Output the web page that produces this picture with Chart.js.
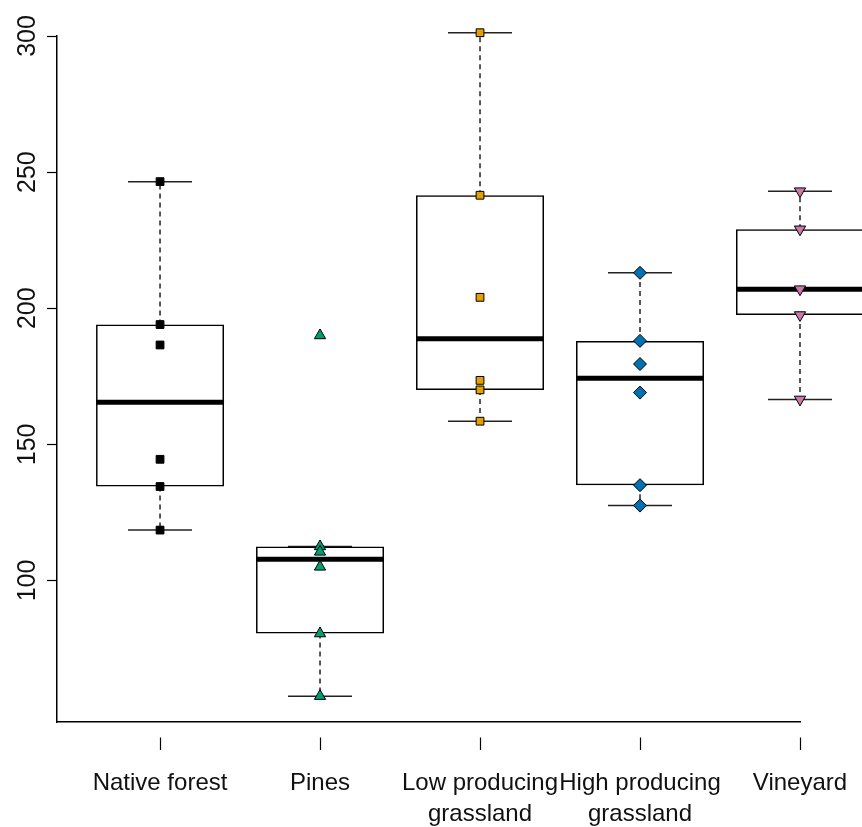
<!DOCTYPE html>
<html>
<head>
<meta charset="utf-8">
<script src="https://cdn.jsdelivr.net/npm/chart.js@4.4.1/dist/chart.umd.min.js"></script>
<style>
  html, body { margin: 0; padding: 0; background: #fff; }
  canvas { display: block; }
</style>
</head>
<body>
<canvas id="boxChart" width="862" height="827"></canvas>
<script>
// Valeurs
var GROUPES = ["Native forest", "Pines", ["Low producing", "grassland"], ["High producing", "grassland"], "Vineyard"];

var NATIVE_FOREST = [246.5, 194, 186.5, 144.5, 134.5, 118.5],
    PINES = [190, 112.5, 110.5, 105, 80.5, 57.5],
    LOW_GRASSLAND = [301.2, 241.5, 204, 173.5, 170, 158.5],
    HIGH_GRASSLAND = [213, 188, 179.5, 169, 135, 127.5],
    VINEYARD = [243, 229, 207, 197.5, 166.5];

// Boites : quartiles, medianes, moustaches
var Q1 = [134.5, 80.5, 170, 135, 197.5],
    MEDIANES = [165.5, 107.75, 188.75, 174.25, 207],
    Q3 = [194, 112.5, 241.5, 188, 229],
    MOUSTACHE_BAS = [118.5, 57.5, 158.5, 127.5, 166.5],
    MOUSTACHE_HAUT = [246.5, 112.5, 301.2, 213, 243];

var Y_TICKS = [100, 150, 200, 250, 300];

var POLICE = "'Liberation Sans', Arial, sans-serif";

function points(valeurs, i) {
    return valeurs.map(function (v) { return { x: i + 1, y: v }; });
}

// moustaches + medianes, dessinees sous les boites et les points
var moustaches = {
    id: 'moustaches',
    beforeDatasetsDraw: function (chart) {
        var ctx = chart.ctx, x = chart.scales.x, y = chart.scales.y;
        var boites = chart.getDatasetMeta(0).data;
        function trait(x1, y1, x2, y2) {
            ctx.beginPath(); ctx.moveTo(x1, y1); ctx.lineTo(x2, y2); ctx.stroke();
        }
        ctx.save();
        boites.forEach(function (barre, i) {
            var cx = x.getPixelForValue(i + 1);
            var demi = barre.width / 2;
            var yHaut = y.getPixelForValue(MOUSTACHE_HAUT[i]),
                yBas = y.getPixelForValue(MOUSTACHE_BAS[i]);
            ctx.strokeStyle = '#222';
            ctx.lineWidth = 1.5;
            ctx.setLineDash([5, 4]);
            trait(cx, y.getPixelForValue(Q3[i]), cx, yHaut);
            trait(cx, y.getPixelForValue(Q1[i]), cx, yBas);
            ctx.setLineDash([]);
            trait(cx - demi / 2, yHaut, cx + demi / 2, yHaut);
            trait(cx - demi / 2, yBas, cx + demi / 2, yBas);
            ctx.strokeStyle = '#000';
            ctx.lineWidth = 5;
            var ym = y.getPixelForValue(MEDIANES[i]);
            trait(cx - demi, ym, cx + demi, ym);
        });
        ctx.restore();
    }
};

var nuage = function (label, valeurs, i, couleur, style, rayon, rotation) {
    return {
        type: 'scatter',
        label: label,
        data: points(valeurs, i),
        backgroundColor: couleur,
        borderColor: '#000',
        borderWidth: 1,
        pointStyle: style,
        pointRadius: rayon,
        rotation: rotation || 0,
        clip: false,
        order: 1
    };
};

var ctx1 = document.getElementById("boxChart").getContext("2d");
var boxChart = new Chart(ctx1, {
    type: 'bar',
    data: {
        datasets: [
            {
                label: 'boites',
                data: Q1.map(function (q, i) { return { x: i + 1, y: [q, Q3[i]] }; }),
                backgroundColor: 'rgba(255,255,255,0)',
                borderColor: '#000',
                borderWidth: 1.5,
                borderSkipped: false,
                barPercentage: 0.8,
                categoryPercentage: 1,
                clip: false,
                order: 2
            },
            nuage("Native forest", NATIVE_FOREST, 0, '#000000', 'rect', 5.5),
            nuage("Pines", PINES, 1, '#009E73', 'triangle', 6.5),
            nuage("Low producing grassland", LOW_GRASSLAND, 2, '#E69F00', 'rect', 5.5),
            nuage("High producing grassland", HIGH_GRASSLAND, 3, '#0072B2', 'rectRot', 6.5),
            nuage("Vineyard", VINEYARD, 4, '#CC79A7', 'triangle', 6.5, 180)
        ]
    },
    options: {
        responsive: false,
        animation: false,
        layout: { padding: { top: 36, right: 62, left: 0, bottom: 0 } },
        plugins: {
            legend: { display: false },
            tooltip: { enabled: false }
        },
        scales: {
            x: {
                type: 'linear',
                offset: false,
                min: 0.356,
                max: 5,
                afterBuildTicks: function (axe) {
                    axe.ticks = GROUPES.map(function (g, i) { return { value: i + 1 }; });
                },
                afterFit: function (axe) {
                    axe.height = 105;
                    axe.paddingLeft = 0;
                    axe.paddingRight = 0;
                },
                ticks: {
                    callback: function (v) { return GROUPES[v - 1]; },
                    color: '#111',
                    padding: 18,
                    maxRotation: 0,
                    autoSkip: false,
                    font: { family: POLICE, size: 24, lineHeight: 1.3 }
                },
                grid: {
                    offset: false,
                    drawOnChartArea: false,
                    tickLength: 28,
                    tickColor: '#000',
                    tickWidth: 1.2,
                    tickBorderDash: [0, 15, 13, 100]
                },
                border: { display: true, color: '#000', width: 1.5 }
            },
            y: {
                min: 48,
                max: 300,
                afterBuildTicks: function (axe) {
                    axe.ticks = Y_TICKS.map(function (v) { return { value: v }; });
                },
                afterFit: function (axe) { axe.width = 57; },
                ticks: {
                    color: '#111',
                    padding: -2,
                    minRotation: 90,
                    maxRotation: 90,
                    crossAlign: 'center',
                    font: { family: POLICE, size: 25 }
                },
                grid: {
                    drawOnChartArea: false,
                    tickLength: 10,
                    tickColor: '#000',
                    tickWidth: 1.2
                },
                border: { display: true, color: '#000', width: 1.5 }
            }
        }
    },
    plugins: [moustaches]
});
</script>
</body>
</html>
